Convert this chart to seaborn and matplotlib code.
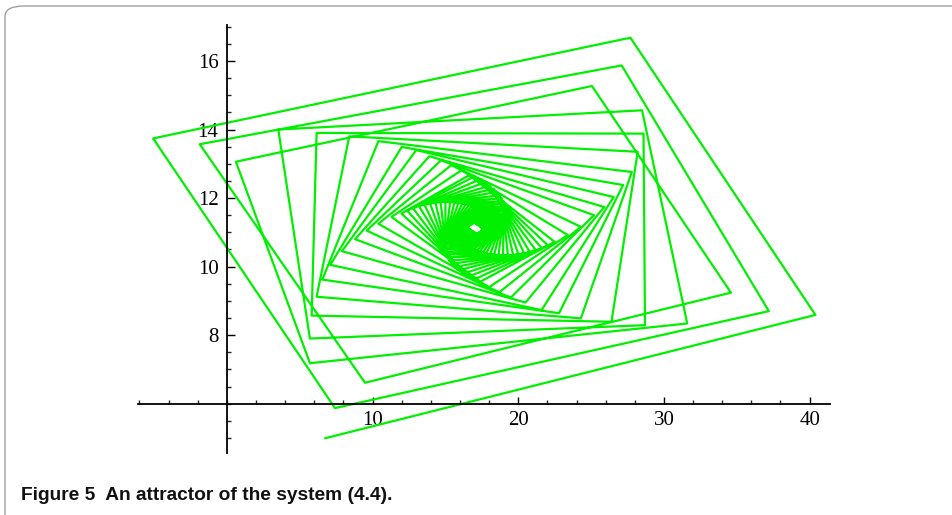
import numpy as np
import pandas as pd
import seaborn as sns
import matplotlib.pyplot as plt
from matplotlib.ticker import MultipleLocator, FixedLocator
from matplotlib.patches import FancyBboxPatch

# vertices of each turn of the orbit: bottom -> right -> top -> left
bottom_x = [6.74, 7.42, 9.48, 5.70, 5.70, 5.82, 6.16, 6.55, 7.10, 7.90, 8.80, 9.60, 10.40, 11.30,
            11.98, 12.38, 12.78, 13.19, 13.57, 13.95, 14.32, 14.67, 15.00, 15.32, 15.62, 15.90,
            16.16, 16.39, 16.61, 16.81, 16.99, 17.16, 17.30, 17.43, 17.54, 17.63, 17.71, 17.77,
            17.82, 17.86, 17.89, 17.90, 17.91, 17.91, 17.90, 17.89, 17.87, 17.84, 17.81, 17.78, 17.74,
            17.70, 17.66, 17.62]
bottom_y = [4.99, 5.87, 6.61, 7.18, 7.90, 8.57, 9.12, 9.62, 10.05, 10.45, 10.80, 11.05, 11.25, 11.45,
            11.55, 11.63, 11.70, 11.76, 11.80, 11.84, 11.86, 11.88, 11.88, 11.88, 11.87, 11.86,
            11.84, 11.82, 11.79, 11.76, 11.73, 11.70, 11.66, 11.63, 11.59, 11.55, 11.51, 11.48,
            11.44, 11.41, 11.37, 11.34, 11.31, 11.28, 11.25, 11.23, 11.20, 11.18, 11.16, 11.14, 11.13,
            11.11, 11.10, 11.09]
right_x = [40.40, 37.20, 34.60, 31.60, 28.70, 26.40, 24.30, 22.80, 21.60, 20.50, 19.50, 18.70, 18.00, 17.40,
           16.91, 16.53, 16.19, 15.90, 15.64, 15.43, 15.25, 15.11, 15.00, 14.92, 14.87, 14.84,
           14.84, 14.85, 14.89, 14.93, 15.00, 15.07, 15.16, 15.24, 15.34, 15.45, 15.55, 15.66,
           15.77, 15.87, 15.98, 16.09, 16.19, 16.29, 16.38, 16.47, 16.56, 16.64, 16.72, 16.79, 16.85,
           16.91, 16.97, 17.02]
right_y = [8.59, 8.70, 9.24, 8.34, 8.29, 8.39, 8.49, 8.64, 8.73, 8.95, 9.10, 9.25, 9.40, 9.56,
           9.61, 9.70, 9.79, 9.89, 9.98, 10.08, 10.17, 10.27, 10.36, 10.44, 10.53, 10.61,
           10.69, 10.76, 10.83, 10.89, 10.95, 11.00, 11.05, 11.09, 11.13, 11.17, 11.20, 11.23,
           11.25, 11.27, 11.29, 11.30, 11.31, 11.32, 11.32, 11.32, 11.32, 11.32, 11.32, 11.32, 11.31,
           11.30, 11.29, 11.29]
top_x = [27.70, 27.10, 25.06, 28.50, 28.60, 28.20, 27.80, 27.20, 26.55, 25.90, 25.20, 24.30, 23.40, 22.50,
         22.04, 21.62, 21.20, 20.79, 20.40, 20.01, 19.65, 19.29, 18.96, 18.64, 18.35, 18.07,
         17.81, 17.58, 17.36, 17.17, 16.99, 16.84, 16.70, 16.58, 16.48, 16.39, 16.32, 16.27,
         16.22, 16.19, 16.17, 16.16, 16.16, 16.16, 16.18, 16.19, 16.22, 16.25, 16.28, 16.32, 16.36,
         16.40, 16.44, 16.49]
top_y = [16.68, 15.87, 15.27, 14.56, 13.88, 13.35, 12.76, 12.38, 12.03, 11.74, 11.50, 11.16, 10.92, 10.72,
         10.62, 10.54, 10.48, 10.43, 10.39, 10.36, 10.34, 10.33, 10.33, 10.33, 10.35, 10.36,
         10.39, 10.41, 10.44, 10.47, 10.51, 10.55, 10.58, 10.62, 10.66, 10.70, 10.74, 10.78,
         10.81, 10.85, 10.88, 10.91, 10.94, 10.97, 11.00, 11.03, 11.05, 11.07, 11.09, 11.11, 11.13,
         11.14, 11.15, 11.16]
left_x = [-5.06, -1.86, 0.62, 3.53, 6.16, 8.40, 10.40, 12.00, 13.00, 13.90, 14.70, 15.40, 16.10, 16.65,
          17.00, 17.40, 17.75, 18.05, 18.32, 18.54, 18.73, 18.88, 19.01, 19.10, 19.16, 19.19,
          19.21, 19.20, 19.18, 19.14, 19.08, 19.01, 18.93, 18.85, 18.76, 18.66, 18.56, 18.45,
          18.35, 18.24, 18.14, 18.03, 17.93, 17.84, 17.74, 17.65, 17.57, 17.48, 17.41, 17.34, 17.27,
          17.21, 17.15, 17.10]
left_y = [13.74, 13.57, 13.06, 14.00, 13.90, 13.80, 13.66, 13.49, 13.40, 13.22, 13.10, 12.96, 12.81, 12.67,
          12.63, 12.55, 12.46, 12.36, 12.27, 12.18, 12.08, 11.99, 11.90, 11.82, 11.73, 11.65,
          11.58, 11.50, 11.44, 11.37, 11.31, 11.26, 11.21, 11.17, 11.12, 11.09, 11.06, 11.03,
          11.00, 10.98, 10.97, 10.95, 10.94, 10.93, 10.93, 10.92, 10.92, 10.92, 10.92, 10.93, 10.93,
          10.94, 10.95, 10.95]

xs, ys = [], []
for k in range(len(bottom_x)):
    xs += [bottom_x[k], right_x[k], top_x[k], left_x[k]]
    ys += [bottom_y[k], right_y[k], top_y[k], left_y[k]]
df = pd.DataFrame({'x': xs, 'y': ys, 'step': range(len(xs))})

sns.set_theme(style="white")
plt.rcParams['font.family'] = ['Liberation Serif', 'DejaVu Serif']

fig = plt.figure(figsize=(9.52, 5.15), dpi=100)
ax = fig.add_axes([138 / 952, 62 / 515, 692 / 952, 428 / 515])

sns.lineplot(data=df, x='x', y='y', sort=False, estimator=None, color='#00f000',
             linewidth=1.6, ax=ax, legend=False)

ax.set_xlim(-6.1, 41.4)
ax.set_ylim(4.56, 17.05)
ax.spines['left'].set_position(('data', 0))
ax.spines['bottom'].set_position(('data', 6))
ax.spines['top'].set_visible(False)
ax.spines['right'].set_visible(False)
for s in ['left', 'bottom']:
    ax.spines[s].set_color('black')
    ax.spines[s].set_linewidth(1.3)

ax.xaxis.set_major_locator(FixedLocator([10, 20, 30, 40]))
ax.xaxis.set_minor_locator(MultipleLocator(2))
ax.yaxis.set_major_locator(FixedLocator([8, 10, 12, 14, 16]))
ax.yaxis.set_minor_locator(MultipleLocator(0.5))
ax.tick_params(axis='x', which='major', direction='in', length=5, width=1, pad=5,
               labelsize=15, colors='black', bottom=True)
ax.tick_params(axis='x', which='minor', direction='in', length=3.2, width=1, bottom=True)
ax.tick_params(axis='y', which='major', direction='in', length=5.8, width=1, pad=6,
               labelsize=15, colors='black', left=True)
ax.tick_params(axis='y', which='minor', direction='in', length=2.9, width=1, left=True)
ax.set_xlabel('')
ax.set_ylabel('')
ax.grid(False)
ax.patch.set_alpha(0)

# rounded frame and caption
frame = FancyBboxPatch((5 / 952, -0.2), 1.2, 1.2 - 6 / 515, transform=fig.transFigure,
                       boxstyle='round,pad=0,rounding_size=0.02', fill=False,
                       edgecolor='#a0a0a0', linewidth=1.0, zorder=0)
fig.patches.append(frame)
fig.text(21 / 952, 15 / 515, 'Figure 5  An attractor of the system (4.4).',
         fontsize=13.8, fontweight='bold', family=['Liberation Sans', 'DejaVu Sans'],
         color='#111111', va='baseline', ha='left')

fig.savefig('out.png', dpi=100)
